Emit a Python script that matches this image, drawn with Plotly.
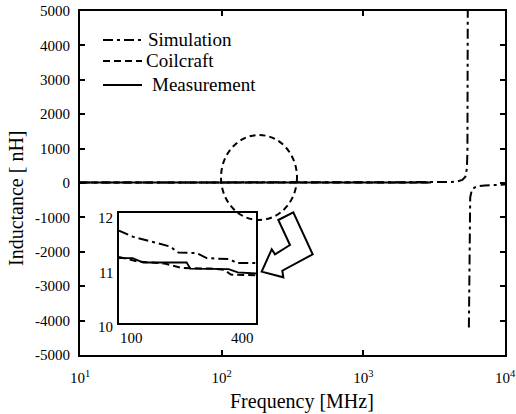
import plotly.graph_objects as go

# ---------------- data (frequency in MHz, inductance in nH) ----------------
meas_freq = [10, 20, 50, 100, 200, 500, 1000, 2000, 3000]
meas_L = [11.0, 11.1, 11.2, 11.2, 11.0, 11.3, 11.8, 13.0, 15.0]

coil_freq = [10, 20, 50, 100, 200, 500, 1000, 2000, 3000]
coil_L = [11.1, 11.2, 11.2, 11.2, 10.9, 11.2, 11.7, 12.8, 14.5]

sim_freq = [10, 20, 50, 100, 200, 400, 1000, 2000, 3000, 4000, 4600, 5000, 5250,
            5380, 5430, 5460, 5480, None, 5560, 5600, 5680, 5850, 6300, 7200, 8500, 10000]
sim_L = [11.5, 11.6, 11.7, 11.7, 11.3, 11.1, 12.0, 14.0, 18.0, 27.0, 45, 90, 180,
         420, 900, 2500, 8000, None, -4200, -1400, -420, -180, -100, -70, -55, -45]

# inset (zoom 100-400 MHz)
inset_sim_freq = [100, 130, 185, 212, 230, 270, 292, 343, 358, 400]
inset_sim_L = [11.68, 11.57, 11.45, 11.39, 11.28, 11.27, 11.18, 11.16, 11.09, 11.09]
inset_meas_freq = [100, 130, 153, 248, 256, 340, 360, 400]
inset_meas_L = [11.18, 11.18, 11.10, 11.10, 10.99, 10.98, 10.92, 10.90]
inset_coil_freq = [100, 140, 200, 238, 300, 330, 345, 400]
inset_coil_L = [11.20, 11.12, 11.08, 11.00, 10.99, 10.97, 10.88, 10.87]

x_tickvals = [10, 100, 1000, 10000]
x_ticktext = ["10<sup>1</sup>", "10<sup>2</sup>", "10<sup>3</sup>", "10<sup>4</sup>"]
y_tickvals = list(range(-5000, 5001, 1000))
y_ticktext = [str(v) for v in y_tickvals]

series_names = ["Simulation", "Coilcraft", "Measurement"]

# ---------------- styling ----------------
W, H = 516, 414
L, R, T, B = 80, 11, 11, 59
PW, PH = W - L - R, H - T - B
FONT = "'Liberation Serif', 'DejaVu Serif', serif"
DASHDOT = "10px,4px,3px,4px"
DASH = "7px,4px"


def px(xp):
    return (xp - L) / PW


def py(yp):
    return (H - B - yp) / PH


fig = go.Figure()

fig.add_trace(go.Scatter(x=meas_freq, y=meas_L, mode="lines", name="Measurement",
                         line=dict(color="black", width=2), showlegend=False))
fig.add_trace(go.Scatter(x=coil_freq, y=coil_L, mode="lines", name="Coilcraft",
                         line=dict(color="black", width=2, dash=DASH), showlegend=False))
fig.add_trace(go.Scatter(x=sim_freq, y=sim_L, mode="lines", name="Simulation",
                         line=dict(color="black", width=2, dash=DASHDOT), showlegend=False))

fig.add_trace(go.Scatter(x=inset_sim_freq, y=inset_sim_L, mode="lines", xaxis="x2", yaxis="y2",
                         line=dict(color="black", width=2, dash=DASHDOT), showlegend=False))
fig.add_trace(go.Scatter(x=inset_meas_freq, y=inset_meas_L, mode="lines", xaxis="x2", yaxis="y2",
                         line=dict(color="black", width=1.8), showlegend=False))
fig.add_trace(go.Scatter(x=inset_coil_freq, y=inset_coil_L, mode="lines", xaxis="x2", yaxis="y2",
                         line=dict(color="black", width=2, dash=DASH), showlegend=False))

axis_common = dict(showline=True, linecolor="black", linewidth=2, mirror="ticks",
                   ticks="inside", ticklen=5, tickwidth=1.5, tickcolor="black",
                   showgrid=False, zeroline=False, automargin=False,
                   ticklabeloverflow="allow",
                   tickfont=dict(family=FONT, size=15, color="black"))

fig.update_layout(
    template="none",
    width=W, height=H,
    margin=dict(l=L, r=R, t=T, b=B),
    paper_bgcolor="white", plot_bgcolor="white",
    font=dict(family=FONT, color="black"),
    xaxis=dict(type="log", range=[1, 4], tickvals=x_tickvals, ticktext=x_ticktext,
               ticklabelstandoff=8, **axis_common),
    yaxis=dict(range=[-5000, 5000], tickvals=y_tickvals, ticktext=y_ticktext,
               ticklabelstandoff=5, **axis_common),
    xaxis2=dict(domain=[px(119), px(256)], anchor="y2", range=[100, 400], automargin=False,
                showline=True, linecolor="black", linewidth=2, mirror=True,
                ticks="", showticklabels=False, showgrid=False, zeroline=False),
    yaxis2=dict(domain=[py(323), py(213)], anchor="x2", range=[10, 12], automargin=False,
                showline=True, linecolor="black", linewidth=2, mirror=True,
                ticks="", showticklabels=False, showgrid=False, zeroline=False),
)

annotations = []
# axis titles
annotations.append(dict(text="Frequency [MHz]", x=px(302), y=py(401), xref="paper", yref="paper",
                        showarrow=False, font=dict(family=FONT, size=20, color="black"),
                        xanchor="center", yanchor="middle"))
annotations.append(dict(text="Inductance [ nH]", x=px(16), y=py(198), xref="paper", yref="paper",
                        showarrow=False, textangle=-90, font=dict(family=FONT, size=20, color="black"),
                        xanchor="center", yanchor="middle"))
# inset tick labels
for txt, xx, yy, xa in [("12", 115, 218, "right"), ("11", 115, 273, "right"), ("10", 115, 327, "right"),
                        ("100", 118, 338, "left"), ("400", 256, 338, "right")]:
    annotations.append(dict(text=txt, x=px(xx), y=py(yy), xref="paper", yref="paper", showarrow=False,
                            font=dict(family=FONT, size=15, color="black"),
                            xanchor=xa, yanchor="middle"))

# legend (drawn manually)
legend_rows = [(series_names[0], 40, DASHDOT, 146), (series_names[1], 61, DASH, 144),
               (series_names[2], 85, "solid", 150)]
shapes = []
for name, yy, dash, tx in legend_rows:
    shapes.append(dict(type="line", xref="paper", yref="paper", x0=px(103), x1=px(142),
                       y0=py(yy), y1=py(yy), line=dict(color="black", width=2, dash=dash)))
    annotations.append(dict(text=name, x=px(tx), y=py(yy - 1), xref="paper", yref="paper",
                            showarrow=False, font=dict(family=FONT, size=19, color="black"),
                            xanchor="left", yanchor="middle"))

# dashed circle highlighting the zoomed region
shapes.append(dict(type="circle", xref="paper", yref="paper", x0=px(221), x1=px(297),
                   y0=py(220), y1=py(135), line=dict(color="black", width=2, dash="6px,4px")))

# hollow bent arrow pointing to the inset
arrow_pts = [(278.3, 220), (293.3, 212.3), (312.7, 254.3), (282.3, 270.7), (283.3, 277.3),
             (261.7, 271.7), (271.7, 249.3), (275, 254.3), (290, 245)]
path = "M " + " L ".join(f"{px(a):.4f},{py(b):.4f}" for a, b in arrow_pts) + " Z"
shapes.append(dict(type="path", xref="paper", yref="paper", path=path,
                   line=dict(color="black", width=2), fillcolor="white"))

fig.update_layout(annotations=annotations, shapes=shapes)

fig.write_html("out.html")
